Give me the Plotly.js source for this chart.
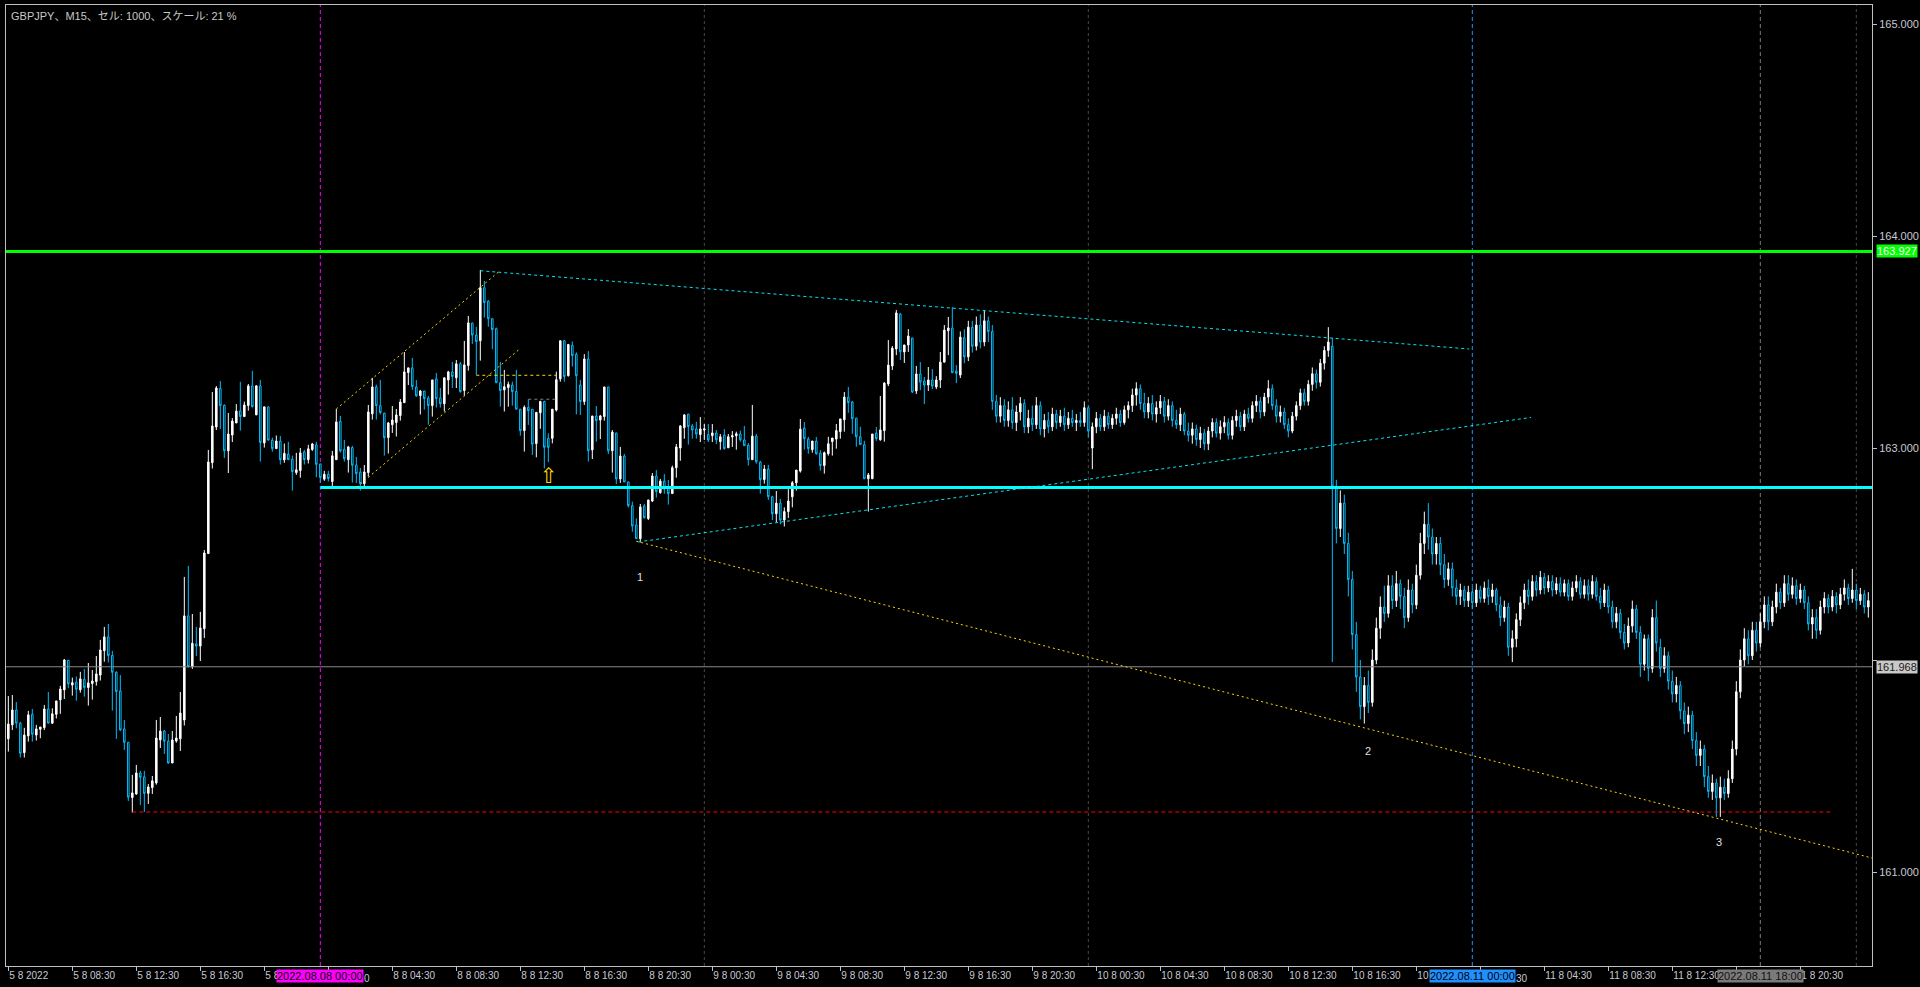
<!DOCTYPE html>
<html><head><meta charset="utf-8">
<script src="https://cdn.plot.ly/plotly-3.0.1.min.js"></script>
<style>html,body{margin:0;padding:0;background:#000;}#c{width:1920px;height:987px;}</style>
</head><body><div id="c"></div>
<script>
// GBPJPY M15 candles (index 0 = 2022.08.05 04:30)
const open=[161.628,161.694,161.764,161.702,161.563,161.642,161.744,161.646,161.673,161.681,161.769,161.702,161.744,161.812,161.859,161.999,161.882,161.895,161.859,161.909,161.870,161.889,161.898,161.929,162.044,162.109,162.022,161.942,161.854,161.675,161.612,161.351,161.368,161.467,161.449,161.371,161.398,161.420,161.623,161.665,161.617,161.514,161.618,161.628,161.717,162.208,161.969,162.076,162.066,162.148,162.502,162.931,163.099,163.281,163.201,162.987,163.061,163.118,163.175,163.148,163.200,163.293,163.156,163.293,163.024,163.194,163.037,162.997,163.033,162.944,162.971,162.947,162.884,162.894,162.982,162.945,162.993,163.015,162.925,162.853,162.876,162.842,162.945,163.126,162.994,162.945,163.002,162.919,162.886,162.832,162.884,163.161,163.288,163.200,163.164,163.049,163.110,163.120,163.153,163.214,163.356,163.378,163.288,163.247,163.269,163.236,163.200,163.326,163.236,163.209,163.321,163.359,163.331,163.397,163.271,163.389,163.590,163.533,163.506,163.756,163.693,163.610,163.563,163.308,163.274,163.285,163.297,163.267,163.183,163.082,163.192,163.183,163.021,163.166,163.219,163.046,163.046,163.179,163.326,163.506,163.341,163.484,163.442,163.297,163.219,163.420,162.991,163.151,163.132,163.148,163.288,162.987,163.071,162.854,162.962,162.840,162.728,162.637,162.572,162.727,162.667,162.750,162.868,162.789,162.844,162.818,162.785,162.907,163.000,163.096,163.160,163.104,163.090,163.063,163.085,163.063,163.058,163.071,163.030,163.061,163.001,163.052,163.058,163.066,163.038,163.014,162.945,163.056,162.934,162.851,162.901,162.770,162.690,162.740,162.660,162.700,162.770,162.836,162.891,163.094,163.042,162.992,163.033,162.976,162.917,162.973,163.030,163.042,163.077,163.133,163.240,163.217,163.141,163.053,163.016,162.855,162.855,163.071,163.039,163.082,163.302,163.387,163.467,163.632,163.453,163.486,163.519,163.269,163.349,163.316,163.297,163.321,163.288,163.321,163.405,163.553,163.566,163.363,
163.344,163.52,163.43,163.57,163.48,163.58,163.50,163.60,163.55,163.22,
163.15,163.20,163.13,163.18,163.12,163.17,163.21,163.10,163.14,163.11,
163.20,163.09,163.13,163.10,163.16,163.12,163.15,163.11,163.14,163.12,
163.13,163.12,163.19,163.00,163.10,163.14,163.10,163.15,163.11,163.14,
163.16,163.12,163.18,163.20,163.25,163.28,163.21,163.17,163.21,163.16,
163.19,163.22,163.15,163.20,163.13,163.11,163.16,163.08,163.06,163.09,
163.04,163.07,163.02,163.08,163.12,163.07,163.10,163.12,163.06,163.13,
163.15,163.10,163.16,163.14,163.20,163.22,163.17,163.24,163.28,163.20,
163.15,163.17,163.11,163.08,163.15,163.20,163.26,163.22,163.30,163.35,
163.31,163.40,163.46,163.48,162.82,162.62,162.74,162.55,162.38,162.12,
161.92,161.78,161.88,161.80,162.00,162.15,162.25,162.22,162.35,162.28,
162.36,162.30,162.20,162.33,162.26,162.40,162.55,162.64,162.58,162.50,
162.55,162.45,162.38,162.43,162.34,162.30,162.33,162.28,162.32,162.27,
162.33,162.29,162.34,162.30,162.33,162.26,162.20,162.25,162.06,162.10,
162.19,162.27,162.33,162.30,162.37,162.33,162.39,162.34,162.37,162.33,
162.36,162.32,162.36,162.30,162.34,162.37,162.31,162.35,162.31,162.37,
162.30,162.27,162.33,162.25,162.18,162.22,162.13,162.08,162.16,162.24,
162.13,161.98,162.10,161.96,162.20,162.06,161.96,162.02,161.90,161.84,
161.88,161.76,161.70,161.74,161.62,161.55,161.58,161.45,161.38,161.42,
161.35,161.40,161.37,161.44,161.58,161.85,162.00,162.10,162.02,162.14,
162.08,162.18,162.26,162.18,162.25,162.32,162.27,162.36,162.31,162.35,
162.29,162.33,162.27,162.17,162.20,162.14,162.25,162.29,162.25,162.30,
162.26,162.31,162.34,162.29,162.33,162.28,162.31,162.25];
const high=[161.830,161.835,161.802,161.708,161.680,161.760,161.769,161.694,161.684,161.788,161.849,161.772,161.807,161.878,162.005,162.000,161.917,161.922,161.944,161.958,161.986,161.953,162.019,162.095,162.156,162.170,162.043,161.947,161.929,161.717,161.612,161.458,161.505,161.477,161.477,161.415,161.453,161.717,161.731,161.670,161.651,161.665,161.736,161.849,162.392,162.444,162.217,162.156,162.227,162.519,162.991,163.264,163.292,163.316,163.206,163.165,163.141,163.207,163.312,163.219,163.302,163.364,163.297,163.321,163.194,163.194,163.049,163.059,163.057,163.021,163.029,162.964,162.977,163.000,162.991,163.015,163.024,163.029,162.925,162.892,162.892,162.986,163.184,163.151,163.038,163.010,163.010,162.958,162.906,162.920,163.203,163.331,163.299,163.321,163.167,163.123,163.198,163.184,163.231,163.453,163.378,163.425,163.321,163.274,163.269,163.246,163.321,163.354,163.283,163.331,163.364,163.406,163.415,163.406,163.505,163.623,163.590,163.571,163.840,163.788,163.698,163.610,163.568,163.406,163.368,163.313,163.313,163.368,163.183,163.201,163.230,163.183,163.168,163.223,163.223,163.069,163.183,163.360,163.506,163.510,163.491,163.502,163.451,163.321,163.443,163.457,163.151,163.198,163.156,163.288,163.288,163.085,163.071,163.005,162.972,162.840,162.747,162.668,162.736,162.736,162.755,162.882,162.896,162.854,162.877,162.849,162.917,163.019,163.108,163.160,163.160,163.113,163.123,163.146,163.113,163.113,163.113,163.085,163.066,163.089,163.066,163.080,163.077,163.082,163.104,163.023,163.203,163.066,162.939,162.920,162.920,162.775,162.797,162.760,162.720,162.806,162.844,162.896,163.137,163.122,163.052,163.033,163.052,162.990,162.983,163.053,163.047,163.113,163.137,163.264,163.288,163.222,163.141,163.100,163.034,162.882,163.066,163.099,163.245,163.311,163.509,163.481,163.651,163.637,163.486,163.561,163.519,163.387,163.405,163.335,163.382,163.372,163.339,163.453,163.580,163.618,163.665,163.391,
163.55,163.56,163.60,163.60,163.62,163.63,163.65,163.62,163.58,163.25,
163.24,163.23,163.22,163.24,163.20,163.24,163.23,163.18,163.20,163.24,
163.22,163.16,163.17,163.19,163.18,163.18,163.19,163.17,163.18,163.16,
163.17,163.22,163.20,163.12,163.17,163.16,163.18,163.17,163.16,163.19,
163.18,163.20,163.22,163.28,163.31,163.30,163.26,163.24,163.25,163.22,
163.25,163.24,163.23,163.22,163.18,163.19,163.17,163.12,163.12,163.11,
163.10,163.09,163.10,163.14,163.14,163.13,163.15,163.14,163.15,163.18,
163.17,163.18,163.19,163.22,163.25,163.24,163.26,163.32,163.30,163.23,
163.20,163.19,163.14,163.17,163.22,163.28,163.28,163.32,163.38,163.37,
163.42,163.48,163.57,163.52,162.85,162.80,162.78,162.60,162.42,162.18,
162.00,161.92,161.95,162.05,162.20,162.30,162.35,162.40,162.40,162.42,
162.38,162.34,162.38,162.36,162.45,162.60,162.70,162.74,162.62,162.58,
162.58,162.50,162.46,162.46,162.38,162.36,162.35,162.35,162.34,162.36,
162.35,162.37,162.38,162.36,162.34,162.30,162.28,162.27,162.14,162.22,
162.30,162.36,162.38,162.40,162.40,162.42,162.41,162.40,162.40,162.39,
162.39,162.38,162.38,162.37,162.40,162.39,162.38,162.38,162.40,162.39,
162.34,162.36,162.35,162.28,162.25,162.24,162.17,162.20,162.28,162.26,
162.16,162.12,162.12,162.24,162.28,162.10,162.06,162.04,161.95,161.92,
161.90,161.80,161.78,161.76,161.66,161.62,161.60,161.50,161.46,161.44,
161.45,161.44,161.48,161.62,161.90,162.05,162.15,162.14,162.18,162.18,
162.22,162.30,162.30,162.28,162.36,162.34,162.40,162.40,162.39,162.38,
162.36,162.35,162.30,162.24,162.24,162.28,162.32,162.31,162.33,162.32,
162.34,162.38,162.36,162.43,162.36,162.34,162.33,162.32];
const low=[161.568,161.670,161.678,161.540,161.540,161.615,161.615,161.620,161.631,161.670,161.702,161.698,161.724,161.746,161.816,161.867,161.832,161.808,161.846,161.827,161.785,161.813,161.879,161.903,161.992,161.988,161.761,161.628,161.665,161.576,161.335,161.280,161.364,161.316,161.283,161.321,161.368,161.412,161.585,161.557,161.511,161.514,161.610,161.571,161.691,161.964,161.958,162.019,161.995,162.104,162.502,162.903,163.085,163.090,162.953,162.882,163.028,163.118,163.082,163.148,163.176,163.191,163.156,162.936,163.002,163.037,162.983,162.997,162.922,162.930,162.945,162.799,162.873,162.860,162.922,162.927,162.986,162.862,162.835,162.845,162.842,162.813,162.945,162.978,162.936,162.884,162.837,162.835,162.799,162.818,162.865,163.134,163.134,163.158,162.964,162.974,163.071,163.054,163.129,163.214,163.297,163.274,163.241,163.158,163.181,163.110,163.148,163.191,163.191,163.172,163.252,163.283,163.283,163.261,163.246,163.365,163.491,163.345,163.412,163.615,163.572,163.466,163.308,163.195,163.172,163.195,163.200,163.183,163.058,162.983,163.109,162.967,162.956,163.091,162.904,162.933,163.022,163.172,163.313,163.313,163.337,163.384,163.159,163.156,163.203,162.936,162.948,163.030,163.042,163.129,162.972,162.884,162.830,162.835,162.840,162.719,162.605,162.572,162.554,162.667,162.660,162.745,162.766,162.785,162.785,162.733,162.785,162.860,162.940,163.044,163.016,163.044,163.044,163.028,163.038,163.028,163.028,163.019,162.992,162.992,163.001,163.005,162.992,163.030,163.011,162.917,162.945,162.926,162.785,162.832,162.755,162.660,162.650,162.640,162.630,162.670,162.720,162.799,162.884,162.992,162.973,162.978,162.968,162.893,162.879,162.964,162.964,162.997,163.044,163.077,163.166,163.067,163.006,163.016,162.855,162.700,162.855,163.034,163.034,163.030,163.292,163.368,163.438,163.415,163.401,163.453,163.259,163.255,163.273,163.207,163.269,163.278,163.278,163.283,163.405,163.438,163.355,163.306,
163.33,163.40,163.41,163.45,163.46,163.47,163.48,163.50,163.18,163.12,
163.12,163.10,163.10,163.09,163.08,163.13,163.07,163.07,163.08,163.09,
163.06,163.05,163.07,163.08,163.09,163.10,163.08,163.09,163.10,163.08,
163.10,163.10,163.05,162.90,163.07,163.08,163.08,163.09,163.09,163.11,
163.10,163.11,163.14,163.17,163.20,163.18,163.14,163.14,163.13,163.12,
163.16,163.12,163.13,163.10,163.09,163.08,163.06,163.03,163.02,163.01,
163.00,162.99,162.99,163.05,163.05,163.04,163.07,163.04,163.04,163.10,
163.08,163.08,163.12,163.12,163.17,163.14,163.15,163.21,163.18,163.12,
163.12,163.09,163.05,163.07,163.13,163.18,163.20,163.20,163.27,163.28,
163.29,163.37,163.43,161.99,162.55,162.58,162.50,162.30,162.05,161.85,
161.72,161.70,161.75,161.78,161.98,162.10,162.18,162.20,162.24,162.25,
162.24,162.15,162.18,162.22,162.24,162.38,162.50,162.52,162.45,162.45,
162.40,162.34,162.35,162.30,162.26,162.26,162.25,162.25,162.24,162.25,
162.27,162.27,162.26,162.27,162.23,162.16,162.18,162.02,161.99,162.06,
162.16,162.24,162.26,162.28,162.30,162.31,162.31,162.32,162.30,162.31,
162.30,162.30,162.28,162.28,162.32,162.29,162.29,162.28,162.29,162.28,
162.24,162.25,162.22,162.15,162.15,162.10,162.05,162.06,162.13,162.10,
161.92,161.95,161.90,161.94,162.04,161.92,161.94,161.86,161.80,161.80,
161.72,161.65,161.66,161.58,161.50,161.50,161.40,161.35,161.34,161.26,
161.26,161.34,161.35,161.42,161.55,161.82,161.97,161.98,162.00,162.04,
162.06,162.15,162.14,162.16,162.22,162.24,162.25,162.28,162.29,162.26,
162.27,162.24,162.14,162.10,162.10,162.12,162.22,162.22,162.23,162.22,
162.24,162.28,162.26,162.27,162.24,162.26,162.22,162.20];
const close=[161.698,161.764,161.702,161.560,161.646,161.741,161.650,161.675,161.684,161.769,161.702,161.746,161.807,161.863,162.000,161.887,161.893,161.862,161.911,161.870,161.892,161.901,161.934,162.047,162.109,162.021,161.942,161.851,161.670,161.612,161.353,161.373,161.467,161.447,161.371,161.401,161.430,161.632,161.665,161.617,161.514,161.623,161.632,161.750,162.208,161.969,162.079,162.066,162.151,162.505,162.934,163.104,163.283,163.200,162.987,163.066,163.127,163.174,163.148,163.203,163.293,163.195,163.293,163.026,163.194,163.037,162.997,163.033,162.945,162.975,162.945,162.889,162.897,162.977,162.945,162.996,163.019,162.923,162.860,162.876,162.856,162.963,163.123,162.986,162.949,163.005,162.919,162.879,162.832,162.887,163.170,163.288,163.200,163.167,163.049,163.118,163.132,163.156,163.217,163.359,163.378,163.290,163.246,163.269,163.233,163.200,163.321,163.233,163.209,163.331,163.359,163.337,163.397,163.266,163.392,163.590,163.533,163.502,163.756,163.686,163.610,163.558,163.308,163.271,163.289,163.300,163.266,163.183,163.082,163.192,163.176,163.018,163.168,163.219,163.003,163.003,163.183,163.322,163.506,163.337,163.488,163.436,163.341,163.219,163.420,162.987,163.151,163.129,163.151,163.288,162.987,163.075,162.854,162.962,162.840,162.728,162.632,162.572,162.722,162.671,162.755,162.868,162.794,162.844,162.807,162.785,162.907,163.005,163.104,163.156,163.101,163.085,163.066,163.090,163.090,163.038,163.071,163.038,163.053,162.997,163.053,163.058,163.067,163.039,163.011,162.945,163.056,162.935,162.851,162.901,162.770,162.690,162.740,162.660,162.700,162.750,162.836,162.896,163.089,163.044,162.997,163.033,162.973,162.917,162.978,163.020,163.047,163.082,163.137,163.240,163.214,163.138,163.053,163.016,162.855,162.873,163.066,163.044,163.085,163.306,163.391,163.471,163.637,163.454,163.486,163.528,163.264,163.349,163.311,163.297,163.321,163.292,163.321,163.405,163.556,163.566,163.355,163.352,
163.523,163.43,163.57,163.48,163.58,163.50,163.60,163.55,163.22,163.15,
163.20,163.13,163.18,163.12,163.17,163.21,163.10,163.14,163.11,163.20,
163.09,163.13,163.10,163.16,163.12,163.15,163.11,163.14,163.12,163.13,
163.12,163.19,163.08,163.10,163.14,163.10,163.15,163.11,163.14,163.16,
163.12,163.18,163.20,163.25,163.28,163.21,163.17,163.21,163.16,163.19,
163.22,163.15,163.20,163.13,163.11,163.16,163.08,163.06,163.09,163.04,
163.07,163.02,163.08,163.12,163.07,163.10,163.12,163.06,163.13,163.15,
163.10,163.16,163.14,163.20,163.22,163.17,163.24,163.28,163.20,163.15,
163.17,163.11,163.08,163.15,163.20,163.26,163.22,163.30,163.35,163.31,
163.40,163.46,163.50,162.82,162.62,162.74,162.55,162.38,162.12,161.92,
161.78,161.88,161.80,162.00,162.15,162.25,162.22,162.35,162.28,162.36,
162.30,162.20,162.33,162.26,162.40,162.55,162.64,162.58,162.50,162.55,
162.45,162.38,162.43,162.34,162.30,162.33,162.28,162.32,162.27,162.33,
162.29,162.34,162.30,162.33,162.26,162.20,162.25,162.06,162.10,162.19,
162.27,162.33,162.30,162.37,162.33,162.39,162.34,162.37,162.33,162.36,
162.32,162.36,162.30,162.34,162.37,162.31,162.35,162.31,162.37,162.30,
162.27,162.33,162.25,162.18,162.22,162.13,162.08,162.16,162.24,162.13,
161.98,162.10,161.96,162.20,162.08,161.96,162.02,161.90,161.84,161.88,
161.76,161.70,161.74,161.62,161.55,161.58,161.45,161.38,161.42,161.35,
161.40,161.37,161.44,161.58,161.85,162.00,162.10,162.02,162.14,162.08,
162.18,162.26,162.18,162.25,162.32,162.27,162.36,162.31,162.35,162.29,
162.33,162.27,162.17,162.20,162.14,162.25,162.29,162.25,162.30,162.26,
162.31,162.34,162.29,162.33,162.28,162.31,162.25,162.28];

const tickIdx=[0,16,32,48,64,80,96,112,128,144,160,176,192,208,224,240,256,272,288,304,320,336,352,368,384,400,416,432,448];
const tickText=["5 8 2022","5 8 08:30","5 8 12:30","5 8 16:30","5 8","","8 8 04:30","8 8 08:30","8 8 12:30","8 8 16:30","8 8 20:30","9 8 00:30","9 8 04:30","9 8 08:30","9 8 12:30","9 8 16:30","9 8 20:30","10 8 00:30","10 8 04:30","10 8 08:30","10 8 12:30","10 8 16:30","10","","11 8 04:30","11 8 08:30","11 8 12:30","","1 8 20:30"];
const priceTicks=[161,162,163,164,165];
const priceText=["161.000","","163.000","164.000","165.000"];
const levelGreen=163.927, levelCyan=162.814, levelGrey=161.968, levelRed=161.283;
const daySep=[174,270,462];

const idx=open.map((_,i)=>i);
const XR=[-0.58,465.92], YR=[160.5566,165.0896];

const trace={type:'candlestick',x:idx,open:open,high:high,low:low,close:close,
  increasing:{line:{color:'#ffffff',width:1},fillcolor:'#ffffff'},
  decreasing:{line:{color:'#00bfff',width:1},fillcolor:'#000000'},
  whiskerwidth:0,hoverinfo:'skip',showlegend:false};

const shapes=[];
function vline(x,color,dash){shapes.push({type:'line',xref:'x',yref:'paper',x0:x,x1:x,y0:0,y1:1,line:{color:color,width:1,dash:dash},layer:'below'});}
daySep.forEach(d=>vline(d,'#4a4a4a','3px,3px'));
vline(78,'#ff00ff','4px,3px');
vline(366,'#1e90ff','4px,3px');
vline(438,'#7a7a7a','4px,3px');
function seg(x0,y0,x1,y1,color,w,dash){shapes.push({type:'line',xref:'x',yref:'y',x0:x0,y0:y0,x1:x1,y1:y1,line:{color:color,width:w,dash:dash}});}
shapes.push({type:'line',xref:'paper',yref:'y',x0:0,x1:1,y0:levelGrey,y1:levelGrey,line:{color:'#8a8a8a',width:1}});
shapes.push({type:'line',xref:'paper',yref:'y',x0:0,x1:1,y0:levelGreen,y1:levelGreen,line:{color:'#00ff00',width:3}});
seg(78,levelCyan,470,levelCyan,'#00ffff',3,'solid');
seg(31,levelRed,456,levelRed,'#ff0000',1,'4px,3px');
seg(157,162.560,465.92,161.066,'#ffd700',1,'2px,3px');
seg(118,163.836,365.2,163.467,'#00e5ee',1,'3px,3px');
seg(157.5,162.557,380.7,163.144,'#00e5ee',1,'3px,3px');
seg(82,163.184,122.9,163.836,'#ffd700',1,'2px,3px');
seg(87.1,162.815,127.9,163.468,'#ffd700',1,'2px,3px');
seg(117,163.343,137,163.343,'#ffd700',1,'3px,3px');
seg(130,163.230,137,163.230,'#808080',1,'3px,3px');

const axFont={family:'Liberation Sans',size:10,color:'#c8c8d4'};
const annotations=[
 {xref:'paper',yref:'paper',x:0,y:1,xanchor:'left',yanchor:'top',xshift:3,yshift:-3,showarrow:false,
  text:'GBPJPY、M15、セル: 1000、スケール: 21 %',font:{family:'Liberation Sans, Noto Sans CJK JP',size:11,color:'#c8c8c8'}},
 {xref:'paper',yref:'y',x:1,y:levelGreen,xanchor:'left',yanchor:'middle',xshift:4,showarrow:false,text:'163.927',
  bgcolor:'#00ff00',borderpad:0,font:{family:'Liberation Sans',size:11,color:'#ffffff'}},
 {xref:'paper',yref:'y',x:1,y:levelGrey,xanchor:'left',yanchor:'middle',xshift:4,showarrow:false,text:'161.968',
  bgcolor:'#c8c8c8',borderpad:0,font:{family:'Liberation Sans',size:11,color:'#202020'}},
 {xref:'x',yref:'paper',x:78,y:0,yanchor:'top',yshift:-3,showarrow:false,text:'2022.08.08 00:00',bgcolor:'#ff00ff',borderpad:0,font:{family:'Liberation Sans',size:11,color:'#000000'}},
 {xref:'x',yref:'paper',x:366,y:0,yanchor:'top',yshift:-3,showarrow:false,text:'2022.08.11 00:00',bgcolor:'#1e90ff',borderpad:0,font:{family:'Liberation Sans',size:11,color:'#000000'}},
 {xref:'x',yref:'paper',x:438,y:0,yanchor:'top',yshift:-3,showarrow:false,text:'2022.08.11 18:00',bgcolor:'#7a7a7a',borderpad:0,font:{family:'Liberation Sans',size:11,color:'#111111'}},
 {xref:'x',yref:'paper',x:89.6,y:0,yanchor:'top',yshift:-5,showarrow:false,text:'0',font:axFont},
 {xref:'x',yref:'paper',x:378.3,y:0,yanchor:'top',yshift:-5,showarrow:false,text:'30',font:axFont},
 {xref:'x',yref:'y',x:135.2,y:162.870,showarrow:false,text:'⇧',font:{family:'DejaVu Sans',size:21,color:'#ffd700'}},
 {xref:'x',yref:'y',x:157.9,y:162.392,showarrow:false,text:'1',font:{family:'Liberation Sans',size:11,color:'#e0e0e0'}},
 {xref:'x',yref:'y',x:339.9,y:161.571,showarrow:false,text:'2',font:{family:'Liberation Sans',size:11,color:'#e0e0e0'}},
 {xref:'x',yref:'y',x:427.7,y:161.142,showarrow:false,text:'3',font:{family:'Liberation Sans',size:11,color:'#e0e0e0'}}
];

const layout={width:1920,height:987,paper_bgcolor:'#000000',plot_bgcolor:'#000000',
 margin:{l:6,r:48,t:5,b:21},showlegend:false,boxgap:0.45,
 xaxis:{type:'linear',range:XR,rangeslider:{visible:false},showgrid:false,zeroline:false,
   tickvals:tickIdx,ticktext:tickText,ticks:'outside',ticklen:4,tickcolor:'#c0c0c0',ticklabelposition:'outside right',
   tickfont:axFont,showline:true,mirror:true,linecolor:'#c0c0c0',linewidth:1},
 yaxis:{range:YR,side:'right',showgrid:false,zeroline:false,tickvals:priceTicks,ticktext:priceText,
   ticks:'outside',ticklen:4,tickcolor:'#c0c0c0',tickfont:{family:'Liberation Sans',size:11,color:'#c8c8d4'},
   showline:true,mirror:true,linecolor:'#c0c0c0',linewidth:1},
 shapes:shapes,annotations:annotations};
Plotly.newPlot('c',[trace],layout,{staticPlot:true,displayModeBar:false});
</script></body></html>
